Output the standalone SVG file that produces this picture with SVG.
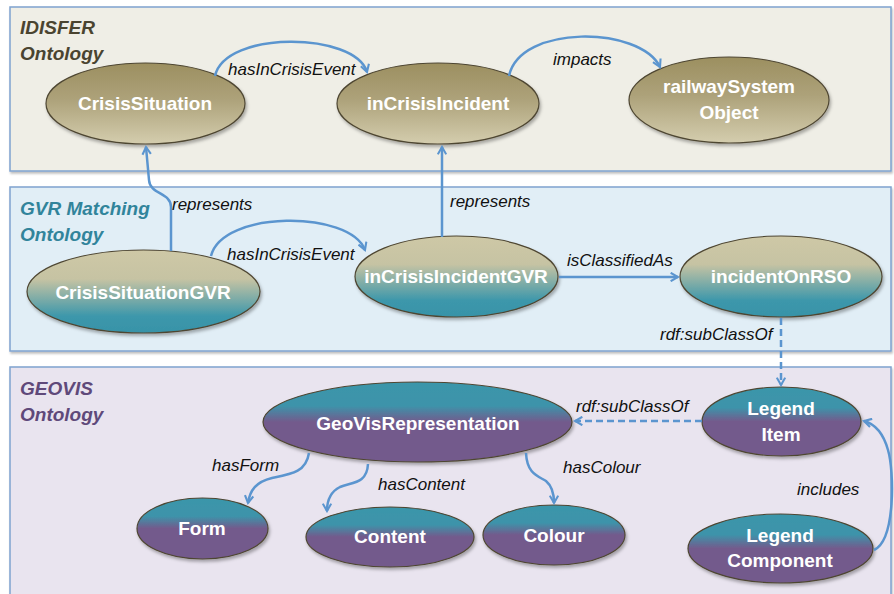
<svg xmlns="http://www.w3.org/2000/svg" width="894" height="594" viewBox="0 0 894 594">
<defs>
<linearGradient id="gI" x1="0" y1="0" x2="0" y2="1"><stop offset="0" stop-color="#9C8F60"/><stop offset="0.45" stop-color="#ADA27A"/><stop offset="1" stop-color="#D4CDAE"/></linearGradient>
<linearGradient id="gG" x1="0" y1="0" x2="0" y2="1"><stop offset="0" stop-color="#CEC8A6"/><stop offset="0.35" stop-color="#C6C3A3"/><stop offset="0.8" stop-color="#3C97AB"/><stop offset="1" stop-color="#3893A8"/></linearGradient>
<linearGradient id="gV" x1="0" y1="0" x2="0" y2="1"><stop offset="0" stop-color="#3A96AA"/><stop offset="0.3" stop-color="#3E93AA"/><stop offset="0.5" stop-color="#735A8C"/><stop offset="1" stop-color="#735A8C"/></linearGradient>
<filter id="sh" x="-10%" y="-10%" width="125%" height="130%"><feDropShadow dx="1.5" dy="2.5" stdDeviation="1.5" flood-color="#000" flood-opacity="0.3"/></filter>
<filter id="psh" x="-2%" y="-5%" width="104%" height="112%"><feDropShadow dx="1" dy="2" stdDeviation="1.2" flood-color="#000" flood-opacity="0.25"/></filter>
<marker id="ar" viewBox="0 0 10 10" refX="8" refY="5" markerWidth="4.2" markerHeight="4.2" orient="auto" markerUnits="strokeWidth"><polyline points="1,1 8,5 1,9" fill="none" stroke="#5B95CF" stroke-width="2"/></marker>
</defs>
<style>
.panel{stroke:#7FA3CF;stroke-width:1.5}
.node{stroke:#4E4632;stroke-width:1.2;filter:url(#sh)}
.nt{font-family:"Liberation Sans",Arial,sans-serif;font-weight:bold;font-size:19px;fill:#FFFFFF;text-anchor:middle}
.lbl{font-family:"Liberation Sans",Arial,sans-serif;font-style:italic;font-size:17px;fill:#111111}
.ttl{font-family:"Liberation Sans",Arial,sans-serif;font-style:italic;font-weight:bold;font-size:19px}
.con{fill:none;stroke:#5B95CF;stroke-width:2.5;marker-end:url(#ar)}
.dash{stroke-dasharray:7,4}
</style>
<rect width="894" height="594" fill="#FFFFFF"/>
<g id="panels">
<rect class="panel" x="10" y="7" width="881" height="164" fill="#EFEEE6" filter="url(#psh)"/>
<rect class="panel" x="10" y="187" width="881" height="164" fill="#E1EEF6" filter="url(#psh)"/>
<rect class="panel" x="10" y="367" width="881" height="240" fill="#E9E4EF" filter="url(#psh)"/>
<text class="ttl" x="20" y="34" fill="#4A4430">IDISFER</text>
<text class="ttl" x="20" y="60" fill="#4A4430">Ontology</text>
<text class="ttl" x="20" y="215" fill="#31849B">GVR Matching</text>
<text class="ttl" x="20" y="241" fill="#31849B">Ontology</text>
<text class="ttl" x="20" y="395" fill="#5F497A">GEOVIS</text>
<text class="ttl" x="20" y="421" fill="#5F497A">Ontology</text>
</g>
<g id="n-crisisSituation"><ellipse class="node" cx="145.5" cy="103.5" rx="99.5" ry="40.5" fill="url(#gI)"/><text class="nt" x="145" y="110">CrisisSituation</text></g>
<g id="n-inCrisisIncident"><ellipse class="node" cx="438" cy="103.5" rx="101" ry="40.5" fill="url(#gI)"/><text class="nt" x="438" y="110">inCrisisIncident</text></g>
<g id="n-railwaySystemObject"><ellipse class="node" cx="729" cy="100" rx="100" ry="43" fill="url(#gI)"/><text class="nt" x="729" y="93">railwaySystem</text><text class="nt" x="729" y="119">Object</text></g>
<g id="n-crisisSituationGVR"><ellipse class="node" cx="143.5" cy="291.5" rx="116.5" ry="41.5" fill="url(#gG)"/><text class="nt" x="143" y="299">CrisisSituationGVR</text></g>
<g id="n-inCrisisIncidentGVR"><ellipse class="node" cx="456.5" cy="276.5" rx="101.5" ry="40.5" fill="url(#gG)"/><text class="nt" x="456" y="283">inCrisisIncidentGVR</text></g>
<g id="n-incidentOnRSO"><ellipse class="node" cx="781" cy="276.5" rx="101" ry="40.5" fill="url(#gG)"/><text class="nt" x="781" y="283">incidentOnRSO</text></g>
<g id="n-geoVisRepresentation"><ellipse class="node" cx="417.5" cy="422" rx="154.5" ry="40" fill="url(#gV)"/><text class="nt" x="418" y="430">GeoVisRepresentation</text></g>
<g id="n-form"><ellipse class="node" cx="202.5" cy="528.5" rx="65.5" ry="30.5" fill="url(#gV)"/><text class="nt" x="202" y="535">Form</text></g>
<g id="n-content"><ellipse class="node" cx="390" cy="537" rx="84" ry="30" fill="url(#gV)"/><text class="nt" x="390" y="543">Content</text></g>
<g id="n-colour"><ellipse class="node" cx="554" cy="535" rx="71" ry="30" fill="url(#gV)"/><text class="nt" x="554" y="542">Colour</text></g>
<g id="n-legendItem"><ellipse class="node" cx="781.5" cy="421.5" rx="79.5" ry="34.5" fill="url(#gV)"/><text class="nt" x="781" y="415">Legend</text><text class="nt" x="781" y="441">Item</text></g>
<g id="n-legendComponent"><ellipse class="node" cx="780.5" cy="548.5" rx="92.5" ry="34.5" fill="url(#gV)"/><text class="nt" x="780" y="542">Legend</text><text class="nt" x="780" y="567">Component</text></g>
<g id="connectors">
<path class="con" d="M215,76 C225,30 355,32 367,72"/>
<path class="con" d="M509,76 C520,24 640,26 660,67"/>
<path class="con" d="M171,251 L171,207 C171,192 150,195 149,180 L146,147"/>
<path class="con" d="M442,237 L442,147"/>
<path class="con" d="M211,256 C222,210 350,210 365,250"/>
<path class="con" d="M559,277 L678,277"/>
<path class="con dash" d="M781,318 L781,385"/>
<path class="con dash" d="M702,421 L575,421"/>
<path class="con" d="M309,453 C306,472 292,474 272,478 C256,482 250,490 248,503"/>
<path class="con" d="M368,464 C367,484 352,482 340,487 C330,492 327,500 327,511"/>
<path class="con" d="M526,453 C527,474 538,476 546,481 C552,486 554,493 554,503"/>
<path class="con" d="M874,550 C896,540 894,470 888,450 C883,432 875,424 864,421"/>
<text class="lbl" x="228" y="75">hasInCrisisEvent</text>
<text class="lbl" x="553" y="65">impacts</text>
<text class="lbl" x="172" y="210">represents</text>
<text class="lbl" x="450" y="207">represents</text>
<text class="lbl" x="227" y="260">hasInCrisisEvent</text>
<text class="lbl" x="567" y="266">isClassifiedAs</text>
<text class="lbl" x="660" y="340">rdf:subClassOf</text>
<text class="lbl" x="576" y="412">rdf:subClassOf</text>
<text class="lbl" x="212" y="471">hasForm</text>
<text class="lbl" x="378" y="490">hasContent</text>
<text class="lbl" x="563" y="473">hasColour</text>
<text class="lbl" x="797" y="495">includes</text>
</g>
</svg>
